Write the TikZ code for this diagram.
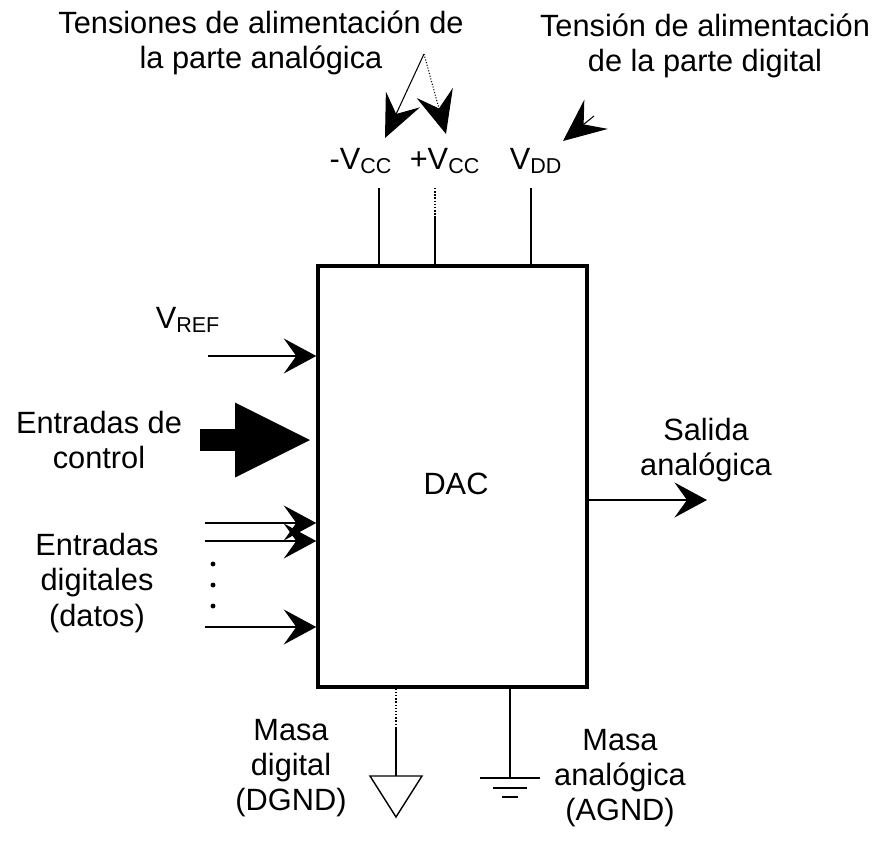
\documentclass[tikz,border=0pt]{standalone}
\usepackage{fontspec}
\setmainfont{Liberation Sans}
\usepackage{tikz}
\usetikzlibrary{positioning,arrows.meta}

\begin{document}
\begin{tikzpicture}[
  x=0.02cm, y=-0.02cm,
  lbl/.style={font=\fontsize{17.5}{20}\selectfont, align=center, inner sep=0pt},
  wire/.style={line width=0.8pt},
  sig/.style={line width=0.8pt, -{Stealth[length=6.5mm, width=7mm, inset=2.5mm]}},
  supply/.style={line width=0.6pt, -{Stealth[length=8.5mm, width=7.5mm, inset=3.2mm]}},
  >=Stealth
]
  \useasboundingbox (0,0) rectangle (877,849);

  % The converter
  \node[draw, line width=2pt, minimum width=5.38cm, minimum height=8.42cm, inner sep=0pt] (dac) at (452.5,476.5) {};
  \node[lbl] (daclbl) at (456,484) {DAC};

  % Supply labels
  \node[lbl] (analog) at (261,43) {Tensiones de alimentación de\\la parte analógica};
  \node[lbl] (digital) at (705,46) {Tensión de alimentación\\de la parte digital};
  \node[lbl] (vccm) at (361,161) {-V\textsubscript{CC}};
  \node[lbl] (vccp) at (445,161) {+V\textsubscript{CC}};
  \node[lbl] (vdd) at (536,161) {V\textsubscript{DD}};

  % Supply arrows
  \coordinate (apex) at (424,54);
  \coordinate (tipA) at (385,138);
  \coordinate (tipB) at (446,134);
  \coordinate (tailD) at (594,116);
  \coordinate (tipD) at (563,141);
  \draw[supply] (apex) -- (tipA);
  \draw[supply, densely dotted] (apex) -- (tipB);
  \draw[supply] (tailD) -- (tipD);

  % Supply pins
  \coordinate (pvccm) at (379,188);
  \coordinate (pvccp) at (435,188);
  \coordinate (pvccpb) at (435,216);
  \coordinate (pvdd) at (531,188);
  \draw[wire] (pvccm) -- (pvccm |- dac.north);
  \draw[wire, densely dotted] (pvccp) -- (pvccpb);
  \draw[wire] (pvccpb) -- (pvccpb |- dac.north);
  \draw[wire] (pvdd) -- (pvdd |- dac.north);

  % Reference input
  \node[lbl] (vref) at (188,320) {V\textsubscript{REF}};
  \coordinate (vrefin) at (208,356);
  \draw[sig] (vrefin) -- (vrefin -| dac.west);

  % Control inputs
  \node[lbl] (ctrl) at (99,440) {Entradas de\\control};
  \coordinate (ctrlin) at (200,440);
  \coordinate (ctrltip) at (310,440);
  \draw[line width=4.5mm, -{Triangle[length=15mm, width=15mm, line width=0pt]}] (ctrlin) -- (ctrltip);

  % Data inputs
  \node[lbl] (digin) at (97,583) {Entradas\\digitales\\(datos)};
  \foreach \y/\n in {523/d1, 541/d2, 627/d3} {
    \coordinate (\n) at (205,\y);
    \draw[sig] (\n) -- (\n -| dac.west);
  }
  \foreach \y in {564,585,606}
    \fill (213,\y) circle (1.4pt);

  % Analog output
  \node[lbl] (out) at (706,450) {Salida\\analógica};
  \coordinate (outtip) at (707,500);
  \draw[sig] (outtip -| dac.east) -- (outtip);

  % Digital ground
  \node[lbl] (dgnd) at (291,768) {Masa\\digital\\(DGND)};
  \coordinate (dgmid) at (396,728);
  \coordinate (dg) at (396,776);
  \draw[wire, densely dotted] (dgmid |- dac.south) -- (dgmid);
  \draw[wire] (dgmid) -- (dg);
  \draw[wire] (dg) ++(-26,0) -- ++(52,0) -- (396,817) -- cycle;

  % Analog ground
  \node[lbl] (agnd) at (620,778) {Masa\\analógica\\(AGND)};
  \coordinate (ag) at (510,778);
  \draw[wire] (ag |- dac.south) -- (ag);
  \draw[wire] (ag) ++(-30,0) -- ++(60,0);
  \draw[wire] (ag) ++(-17,10) -- ++(34,0);
  \draw[wire] (ag) ++(-8,19) -- ++(16,0);
\end{tikzpicture}
\end{document}
